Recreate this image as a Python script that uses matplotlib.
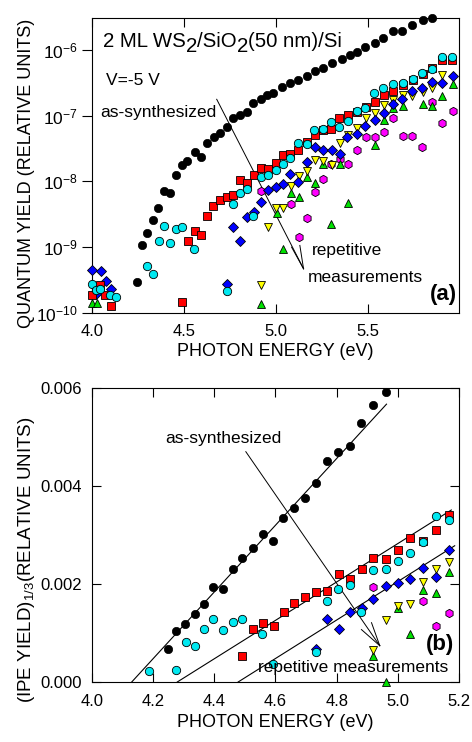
import matplotlib
matplotlib.use('Agg')
import matplotlib.pyplot as plt
import numpy as np
from matplotlib.ticker import FixedLocator, FuncFormatter, NullLocator

plt.rcParams['font.family'] = ['Liberation Sans', 'DejaVu Sans']
plt.rcParams['mathtext.fontset'] = 'custom'
plt.rcParams['mathtext.rm'] = 'Liberation Sans'
plt.rcParams['mathtext.it'] = 'Liberation Sans:italic'
plt.rcParams['mathtext.bf'] = 'Liberation Sans:bold'

# ---------------- panel (a): quantum yield (log10 values) ----------------
black_a_E = [4.243, 4.270, 4.301, 4.333, 4.361, 4.391, 4.424, 4.457, 4.487, 4.518,
             4.560, 4.590, 4.623, 4.663, 4.696, 4.732, 4.764, 4.804, 4.841, 4.877,
             4.918, 4.949, 4.986, 5.031, 5.076, 5.121, 5.167, 5.212, 5.257, 5.303,
             5.357, 5.402, 5.438, 5.484, 5.538, 5.583, 5.638, 5.683, 5.741, 5.797, 5.850]
black_a_log = [-9.53, -8.96, -8.785, -8.58, -8.40, -8.145, -8.175, -7.905, -7.753, -7.69,
               -7.56, -7.63, -7.42, -7.32, -7.27, -7.17, -7.04, -6.99, -6.94, -6.81,
               -6.75, -6.69, -6.65, -6.57, -6.50, -6.46, -6.40, -6.32, -6.27, -6.20,
               -6.14, -6.08, -6.03, -5.96, -5.89, -5.82, -5.72, -5.71, -5.62, -5.54, -5.52]

red_a_E = [4.000, 4.043, 4.073, 4.103, 4.492, 4.523, 4.558, 4.592, 4.623, 4.659,
           4.696, 4.732, 4.769, 4.804, 4.842, 4.879, 4.920, 4.958, 5.000, 5.040,
           5.076, 5.121, 5.167, 5.212, 5.254, 5.297, 5.344, 5.390, 5.438, 5.489,
           5.538, 5.587, 5.638, 5.690, 5.743, 5.797, 5.850, 5.904, 5.958]
red_a_log = [-9.72, -9.58, -9.73, -9.90, -9.83, -8.91, -8.76, -8.81, -8.53, -8.38,
             -8.28, -8.23, -8.20, -7.98, -8.03, -7.91, -7.79, -7.81, -7.72, -7.60,
             -7.58, -7.52, -7.40, -7.30, -7.22, -7.21, -7.04, -6.99, -6.95, -6.87,
             -6.80, -6.69, -6.62, -6.53, -6.46, -6.37, -6.27, -6.16, -6.16]

cyan_a_E = [4.000, 4.022, 4.046, 4.098, 4.130, 4.301, 4.333, 4.362, 4.391, 4.424,
            4.457, 4.489, 4.555, 4.732, 4.765, 4.804, 4.841, 4.877, 4.918, 4.958,
            4.998, 5.036, 5.076, 5.120, 5.167, 5.207, 5.254, 5.297, 5.344, 5.390,
            5.438, 5.485, 5.534, 5.583, 5.634, 5.689, 5.743, 5.795, 5.849, 5.904, 5.958]
cyan_a_log = [-9.56, -9.65, -9.63, -9.73, -9.75, -9.285, -9.415, -8.90, -8.68, -8.93,
              -8.73, -8.69, -9.03, -9.67, -8.35, -8.17, -8.11, -8.53, -7.93, -7.91,
              -7.83, -7.74, -7.64, -7.41, -7.43, -7.22, -7.20, -7.09, -7.17, -7.08,
              -6.93, -6.89, -6.65, -6.58, -6.52, -6.51, -6.45, -6.35, -6.29, -6.11, -6.11]

blue_a_E = [4.000, 4.023, 4.049, 4.076, 4.102, 4.732, 4.765, 4.804, 4.841, 4.880,
            4.918, 4.958, 5.000, 5.040, 5.078, 5.122, 5.167, 5.212, 5.257, 5.303,
            5.348, 5.389, 5.438, 5.485, 5.536, 5.585, 5.638, 5.686, 5.741, 5.796,
            5.849, 5.905, 5.964]
blue_a_log = [-9.34, -9.71, -9.36, -9.52, -9.63, -9.556, -8.69, -8.90, -8.54, -8.47,
              -8.32, -8.13, -8.08, -8.045, -7.89, -8.01, -7.71, -7.47, -7.53, -7.52,
              -7.59, -7.33, -7.28, -7.16, -7.06, -6.96, -6.82, -6.75, -6.63, -6.58,
              -6.49, -6.50, -6.40]

yellow_a_E = [4.917, 4.958, 5.000, 5.040, 5.080, 5.125, 5.167, 5.212, 5.257, 5.303,
              5.348, 5.391, 5.438, 5.488, 5.538, 5.587, 5.636, 5.689, 5.741, 5.797,
              5.849, 5.904]
yellow_a_log = [-9.58, -8.69, -8.41, -8.40, -8.07, -7.92, -7.84, -7.67, -7.69, -7.75,
                -7.42, -7.30, -7.19, -7.04, -6.96, -6.84, -6.76, -6.69, -6.70, -6.64,
                -6.58, -6.38]

green_a_E = [4.000, 4.027, 4.918, 5.004, 5.040, 5.082, 5.123, 5.167, 5.212, 5.257,
             5.299, 5.348, 5.393, 5.541, 5.587, 5.638, 5.689, 5.797, 5.849, 5.905, 5.964]
green_a_log = [-9.85, -9.85, -9.87, -8.48, -9.03, -8.17, -8.23, -7.93, -8.03, -7.74,
               -8.64, -7.74, -8.33, -7.45, -7.07, -6.88, -6.85, -6.82, -6.86, -6.70, -6.52]

magenta_a_E = [4.917, 5.082, 5.125, 5.167, 5.212, 5.255, 5.301, 5.348, 5.393, 5.438,
               5.489, 5.538, 5.587, 5.636, 5.690, 5.741, 5.796, 5.849, 5.905, 5.964]
magenta_a_log = [-8.14, -8.35, -8.84, -8.56, -8.16, -7.96, -7.74, -7.66, -7.74, -7.52,
                 -7.32, -7.32, -7.245, -7.03, -7.31, -7.31, -7.48, -6.79, -7.11, -6.93]

# ---------------- panel (b): (IPE yield)^(1/3) ----------------
black_b_E = [4.247, 4.276, 4.305, 4.336, 4.367, 4.396, 4.428, 4.460, 4.492, 4.525,
             4.558, 4.592, 4.625, 4.661, 4.697, 4.733, 4.767, 4.805, 4.843, 4.881,
             4.919, 4.961]
black_b_Y = [0.000667, 0.00104, 0.00118, 0.00139, 0.00160, 0.00193, 0.00189, 0.00231,
             0.00253, 0.00273, 0.00302, 0.00288, 0.00335, 0.00356, 0.00375, 0.00406,
             0.00450, 0.00470, 0.00482, 0.00529, 0.00565, 0.00592]

red_b_E = [4.492, 4.526, 4.560, 4.595, 4.627, 4.662, 4.698, 4.734, 4.770, 4.807,
           4.844, 4.882, 4.919, 4.960, 5.001, 5.040, 5.083, 5.124, 5.166]
red_b_Y = [0.000531, 0.001076, 0.00121, 0.00115, 0.001435, 0.00161, 0.00174, 0.00183,
           0.00186, 0.00220, 0.00210, 0.00231, 0.00254, 0.00250, 0.00269, 0.00294,
           0.00288, 0.00310, 0.00341]

cyan_b_E = [4.188, 4.276, 4.306, 4.337, 4.367, 4.396, 4.428, 4.461, 4.492, 4.557,
            4.592, 4.733, 4.768, 4.806, 4.843, 4.881, 4.920, 4.960, 5.000, 5.040,
            5.083, 5.124, 5.168]
cyan_b_Y = [0.000224, 0.000245, 0.00081, 0.000735, 0.00108, 0.00128, 0.00106, 0.00123,
            0.00128, 0.00098, 0.000371, 0.000602, 0.00165, 0.00189, 0.00198, 0.00143,
            0.00228, 0.00231, 0.00246, 0.00263, 0.00285, 0.00339, 0.00331]

blue_b_E = [4.733, 4.769, 4.808, 4.843, 4.882, 4.920, 4.961, 5.001, 5.040, 5.083, 5.124, 5.167]
blue_b_Y = [0.000667, 0.00128, 0.00108, 0.00142, 0.00150, 0.00169, 0.00196, 0.00203,
            0.00210, 0.00232, 0.00215, 0.00270]

yellow_b_E = [4.920, 4.960, 5.001, 5.040, 5.083, 5.124, 5.167]
yellow_b_Y = [0.000647, 0.00127, 0.00156, 0.00159, 0.00205, 0.00230, 0.00245]

green_b_E = [4.920, 4.960, 5.001, 5.040, 5.083, 5.124, 5.167]
green_b_Y = [0.000531, 0.000006, 0.00150, 0.000986, 0.00188, 0.00182, 0.00225]

magenta_b_E = [4.920, 5.083, 5.124, 5.166]
magenta_b_Y = [0.00194, 0.00165, 0.00114, 0.00141]

# linear fits in panel (b): endpoints (E, value)
fit_black_E = [4.130, 4.963]
fit_black_Y = [0.0, 0.00567]
fit_red_E = [4.279, 5.175]
fit_red_Y = [0.0, 0.00351]
fit_blue_E = [4.478, 5.186]
fit_blue_Y = [0.0, 0.00278]

xticks_a = [4.0, 4.5, 5.0, 5.5]
yticks_a_exp = [-10, -9, -8, -7, -6]
xticks_b = [4.0, 4.2, 4.4, 4.6, 4.8, 5.0, 5.2]
yticks_b = [0.000, 0.002, 0.004, 0.006]

styles = {
    'black':   dict(marker='o', ms=6.0, mfc='black', mec='black', mew=0.5),
    'red':     dict(marker='s', ms=5.5, mfc='#ff0000', mec='black', mew=0.6),
    'cyan':    dict(marker='o', ms=6.0, mfc='#00e8f0', mec='black', mew=0.6),
    'blue':    dict(marker='D', ms=4.9, mfc='#0000ff', mec='black', mew=0.6),
    'yellow':  dict(marker='v', ms=6.0, mfc='#ffff00', mec='black', mew=0.6),
    'green':   dict(marker='^', ms=6.0, mfc='#00e000', mec='black', mew=0.6),
    'magenta': dict(marker='h', ms=6.0, mfc='#ff00ff', mec='black', mew=0.6),
}

fig = plt.figure(figsize=(4.72, 7.42), dpi=100)
ax1 = fig.add_axes([0.1949, 0.5782, 0.7775, 0.3976])
ax2 = fig.add_axes([0.1949, 0.0809, 0.7775, 0.3962])

def draw(ax, E, Y, key, z):
    ax.plot(E, Y, ls='none', zorder=z, clip_on=False, **styles[key])

order = ['magenta', 'green', 'yellow', 'blue', 'red', 'cyan', 'black']
data_a = {
    'black': (black_a_E, black_a_log), 'red': (red_a_E, red_a_log),
    'cyan': (cyan_a_E, cyan_a_log), 'blue': (blue_a_E, blue_a_log),
    'yellow': (yellow_a_E, yellow_a_log), 'green': (green_a_E, green_a_log),
    'magenta': (magenta_a_E, magenta_a_log),
}
data_b = {
    'black': (black_b_E, black_b_Y), 'red': (red_b_E, red_b_Y),
    'cyan': (cyan_b_E, cyan_b_Y), 'blue': (blue_b_E, blue_b_Y),
    'yellow': (yellow_b_E, yellow_b_Y), 'green': (green_b_E, green_b_Y),
    'magenta': (magenta_b_E, magenta_b_Y),
}
for i, k in enumerate(order):
    E, L = data_a[k]
    draw(ax1, E, 10.0 ** np.array(L), k, 3 + i)
    E, Y = data_b[k]
    draw(ax2, E, Y, k, 3 + i)

# ---- panel (a) axes ----
ax1.set_yscale('log')
ax1.set_xlim(4.0, 5.995)
ax1.set_ylim(1e-10, 3.05e-6)
ax1.xaxis.set_major_locator(FixedLocator(xticks_a))
ax1.xaxis.set_major_formatter(FuncFormatter(lambda v, p: '%.1f' % v))
ax1.yaxis.set_major_locator(FixedLocator([10.0 ** e for e in yticks_a_exp]))
ax1.yaxis.set_major_formatter(FuncFormatter(lambda v, p: r'$10^{%d}$' % int(round(np.log10(v)))))
ax1.yaxis.set_minor_locator(NullLocator())
ax1.xaxis.set_minor_locator(NullLocator())
ax1.tick_params(axis='x', direction='in', top=True, bottom=True, length=6.5, width=0.8,
                labelsize=12, pad=8)
ax1.tick_params(axis='y', direction='out', left=True, right=False, length=7, width=0.8,
                labelsize=12.5, pad=3)
ax1.set_xlabel('PHOTON ENERGY (eV)', fontsize=13, labelpad=3)
for s in ax1.spines.values():
    s.set_linewidth(0.8)

# ---- panel (b) axes ----
ax2.set_xlim(4.0, 5.2)
ax2.set_ylim(0.0, 0.006)
ax2.xaxis.set_major_locator(FixedLocator(xticks_b))
ax2.xaxis.set_major_formatter(FuncFormatter(lambda v, p: '%.1f' % v))
ax2.yaxis.set_major_locator(FixedLocator(yticks_b))
ax2.yaxis.set_major_formatter(FuncFormatter(lambda v, p: '%.3f' % v))
ax2.tick_params(axis='x', direction='in', top=True, bottom=True, length=6.5, width=0.8,
                labelsize=12, pad=9)
ax2.tick_params(axis='y', direction='in', left=True, right=True, length=6.5, width=0.8,
                labelsize=12, pad=7)
ax2.set_xlabel('PHOTON ENERGY (eV)', fontsize=13, labelpad=3)
for s in ax2.spines.values():
    s.set_linewidth(0.8)

ax2.plot(fit_black_E, fit_black_Y, color='black', lw=0.8, zorder=2)
ax2.plot(fit_red_E, fit_red_Y, color='black', lw=0.8, zorder=2)
ax2.plot(fit_blue_E, fit_blue_Y, color='black', lw=0.8, zorder=2)

# y labels
fig.text(0.0565, 0.7662, 'QUANTUM YIELD (RELATIVE UNITS)', rotation=90,
         ha='center', va='center', fontsize=13)
fig.text(0.0565, 0.245, r'(IPE YIELD)$_{1/3}$(RELATIVE UNITS)', rotation=90,
         ha='center', va='center', fontsize=13.5)

# ---- annotations (a) ----
def chain(ax, x, y, pieces, fs):
    t = ax.text(x, y, pieces[0][0], transform=ax.transAxes, fontsize=fs,
                ha='left', va='baseline', zorder=20)
    prev = pieces[0][1]
    for s, off in pieces[1:]:
        t = ax.annotate(s, xy=(1, 0), xycoords=t, xytext=(0, off - prev),
                        textcoords='offset points', fontsize=fs,
                        ha='left', va='bottom', zorder=20)
        prev = off

chain(ax1, 0.031, 0.903, [('2 ML WS', 0), ('2', -3.8), ('/SiO', 0), ('2', -3.8),
                          ('(50 nm)/Si', 0)], 14.7)
ax1.text(0.038, 0.773, 'V=-5 V', transform=ax1.transAxes, fontsize=12.5,
         ha='left', va='baseline')
ax1.text(0.022, 0.663, 'as-synthesized', transform=ax1.transAxes, fontsize=12.5,
         ha='left', va='baseline')
ax1.text(0.599, 0.197, 'repetitive', transform=ax1.transAxes, fontsize=12.5,
         ha='left', va='baseline')
ax1.text(0.589, 0.105, 'measurements', transform=ax1.transAxes, fontsize=12.5,
         ha='left', va='baseline')
ax1.text(0.994, 0.044, '(a)', transform=ax1.transAxes, fontsize=16, fontweight='bold',
         ha='right', va='baseline')

tipA = (5.150, 10 ** -9.328)
ax1.plot([4.678, tipA[0]], [10 ** -6.752, tipA[1]], color='black', lw=0.7, zorder=2)
ax1.plot([5.085, tipA[0]], [10 ** -8.999, tipA[1]], color='black', lw=0.7, zorder=2)
ax1.plot([5.130, tipA[0]], [10 ** -8.973, tipA[1]], color='black', lw=0.7, zorder=2)

# ---- annotations (b) ----
ax2.text(0.199, 0.814, 'as-synthesized', transform=ax2.transAxes, fontsize=12.5,
         ha='left', va='baseline')
ax2.text(0.4515, 0.035, 'repetitive measurements', transform=ax2.transAxes,
         fontsize=12.5, ha='left', va='baseline', zorder=20)
ax2.text(0.986, 0.109, '(b)', transform=ax2.transAxes, fontsize=16, fontweight='bold',
         ha='right', va='baseline')

tipB = (4.941, 0.00074)
ax2.plot([4.503, tipB[0]], [0.00470, tipB[1]], color='black', lw=0.7, zorder=2)
ax2.plot([4.881, tipB[0]], [0.00107, tipB[1]], color='black', lw=0.7, zorder=2)
ax2.plot([4.914, tipB[0]], [0.00121, tipB[1]], color='black', lw=0.7, zorder=2)

fig.savefig('out.png', dpi=100)
